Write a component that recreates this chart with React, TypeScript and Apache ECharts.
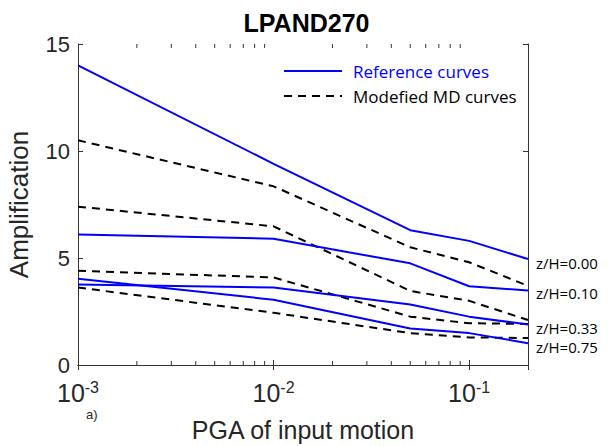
import React, { useEffect, useRef } from "react";
import * as echarts from "echarts";

const pga = [0.001, 0.01, 0.05, 0.1, 0.2];
const refZ000 = [14.0, 9.4, 6.3, 5.8, 4.95];
const refZ010 = [6.1, 5.9, 4.75, 3.68, 3.48];
const refZ033 = [3.76, 3.62, 2.83, 2.26, 1.89];
const refZ075 = [4.03, 3.05, 1.71, 1.49, 1.02];
const mdZ000 = [10.5, 8.35, 5.5, 4.8, 3.7];
const mdZ010 = [7.4, 6.48, 3.46, 3.0, 2.1];
const mdZ033 = [4.4, 4.09, 2.26, 1.95, 1.92];
const mdZ075 = [3.62, 2.44, 1.49, 1.29, 1.26];
const depthLabels = ["z/H=0.00", "z/H=0.10", "z/H=0.33", "z/H=0.75"];
const minorTicks = [0.002, 0.003, 0.004, 0.005, 0.006, 0.007, 0.008, 0.009, 0.02, 0.03, 0.04, 0.05, 0.06, 0.07, 0.08, 0.09];
const yTicks = [0, 5, 10, 15];

const FONT = "'Liberation Sans', Arial, sans-serif";
const FONT2 = "'Open Sans', 'Noto Sans', sans-serif";
const AX = "#333333";
const TXT = "#262626";

export default function App() {
  const ref = useRef<HTMLDivElement>(null);
  useEffect(() => {
    if (!ref.current) return;
    const chart = echarts.init(ref.current, null, { renderer: "svg" });
    const mk = (d: number[]) => pga.map((x, i) => [x, d[i]]);
    const blue = (name: string, d: number[]) => ({
      type: "line", name, data: mk(d), symbol: "none",
      lineStyle: { color: "#0000ff", width: 2 }, z: 3,
    });
    const dash = (name: string, d: number[]) => ({
      type: "line", name, data: mk(d), symbol: "none",
      lineStyle: { color: "#000000", width: 2, type: [8, 6] }, z: 2,
    });
    const logAxisBase = {
      type: "log", logBase: 10, min: 0.001, max: 0.2,
      axisLine: { show: true, lineStyle: { color: AX, width: 1 } },
      axisTick: { show: true, inside: true, length: 5, lineStyle: { color: AX, width: 1 } },
      splitLine: { show: false },
      minorTick: { show: false },
    };
    const valAxisBase = {
      type: "value", min: 0, max: 15, interval: 5,
      axisLine: { show: true, lineStyle: { color: AX, width: 1 } },
      axisTick: { show: true, inside: true, length: 5, lineStyle: { color: AX, width: 1 } },
      splitLine: { show: false },
    };
    chart.setOption({
      animation: false,
      backgroundColor: "#ffffff",
      title: {
        text: "LPAND270", left: "center", top: 5,
        textStyle: { fontFamily: FONT, fontWeight: "bold", fontSize: 25, color: "#000" },
      },
      grid: { left: 78, right: 85, top: 44, bottom: 81, outerBoundsMode: "none", containLabel: false },
      xAxis: [
        {
          ...logAxisBase, position: "bottom",
          name: "PGA of input motion", nameLocation: "middle", nameGap: 52,
          nameTextStyle: { fontFamily: FONT, fontSize: 25, color: TXT },
          axisLabel: {
            margin: 14,
            formatter: (v: number) => {
              const e = Math.log10(v);
              if (Math.abs(e - Math.round(e)) > 1e-6) return "";
              return `{b|10}{s|${Math.round(e)}}`;
            },
            rich: {
              b: { fontFamily: FONT, fontSize: 25, color: TXT },
              s: { fontFamily: FONT, fontSize: 16, color: TXT, padding: [0, 0, 12, 0] },
            },
          },
        },
        { ...logAxisBase, position: "top", axisLabel: { show: false } },
      ],
      yAxis: [
        {
          ...valAxisBase, position: "left",
          name: "Amplification", nameLocation: "middle", nameGap: 46,
          nameTextStyle: { fontFamily: FONT, fontSize: 26, color: TXT },
          axisLabel: {
            margin: 8, fontFamily: FONT, fontSize: 22, color: TXT,
            formatter: (v: number) => (yTicks.includes(v) ? String(v) : ""),
          },
        },
        { ...valAxisBase, position: "right", axisLabel: { show: false } },
      ],
      series: [
        blue("ref0", refZ000), blue("ref1", refZ010), blue("ref2", refZ033), blue("ref3", refZ075),
        dash("md0", mdZ000), dash("md1", mdZ010), dash("md2", mdZ033), dash("md3", mdZ075),
        {
          type: "custom", name: "minor", silent: true, z: 1, clip: false,
          data: minorTicks.map((x) => [x, 0]),
          encode: { x: 0, y: 1 },
          renderItem: (params: any, api: any) => {
            const x = api.value(0);
            const b = api.coord([x, 0]);
            const t = api.coord([x, 15]);
            return {
              type: "group",
              children: [
                { type: "line", shape: { x1: b[0], y1: b[1], x2: b[0], y2: b[1] - 4 }, style: { stroke: AX, lineWidth: 1 } },
                { type: "line", shape: { x1: t[0], y1: t[1], x2: t[0], y2: t[1] + 4 }, style: { stroke: AX, lineWidth: 1 } },
              ],
            };
          },
        },
      ],
      graphic: [
        { type: "line", shape: { x1: 284, y1: 71, x2: 342, y2: 71 }, style: { stroke: "#0000ff", lineWidth: 2 } },
        { type: "text", x: 353, y: 71, style: { text: "Reference curves", fill: "#0000ff", font: `17px ${FONT2}`, textVerticalAlign: "middle" } },
        { type: "line", shape: { x1: 284, y1: 96, x2: 342, y2: 96 }, style: { stroke: "#000", lineWidth: 2, lineDash: [8, 6] } },
        { type: "text", x: 353, y: 96, style: { text: "Modefied MD curves", fill: "#000", font: `17px ${FONT2}`, textVerticalAlign: "middle" } },
        { type: "text", x: 536, y: 263, style: { text: depthLabels[0], fill: "#000", font: `15px ${FONT2}`, textVerticalAlign: "middle" } },
        { type: "text", x: 536, y: 293, style: { text: depthLabels[1], fill: "#000", font: `15px ${FONT2}`, textVerticalAlign: "middle" } },
        { type: "text", x: 536, y: 328, style: { text: depthLabels[2], fill: "#000", font: `15px ${FONT2}`, textVerticalAlign: "middle" } },
        { type: "text", x: 536, y: 347, style: { text: depthLabels[3], fill: "#000", font: `15px ${FONT2}`, textVerticalAlign: "middle" } },
        { type: "text", x: 86, y: 414, style: { text: "a)", fill: TXT, font: `13px ${FONT}`, textVerticalAlign: "middle" } },
      ],
    });
    return () => chart.dispose();
  }, []);
  return <div ref={ref} style={{ width: 613, height: 446, position: "absolute", left: 0, top: 0 }} />;
}
